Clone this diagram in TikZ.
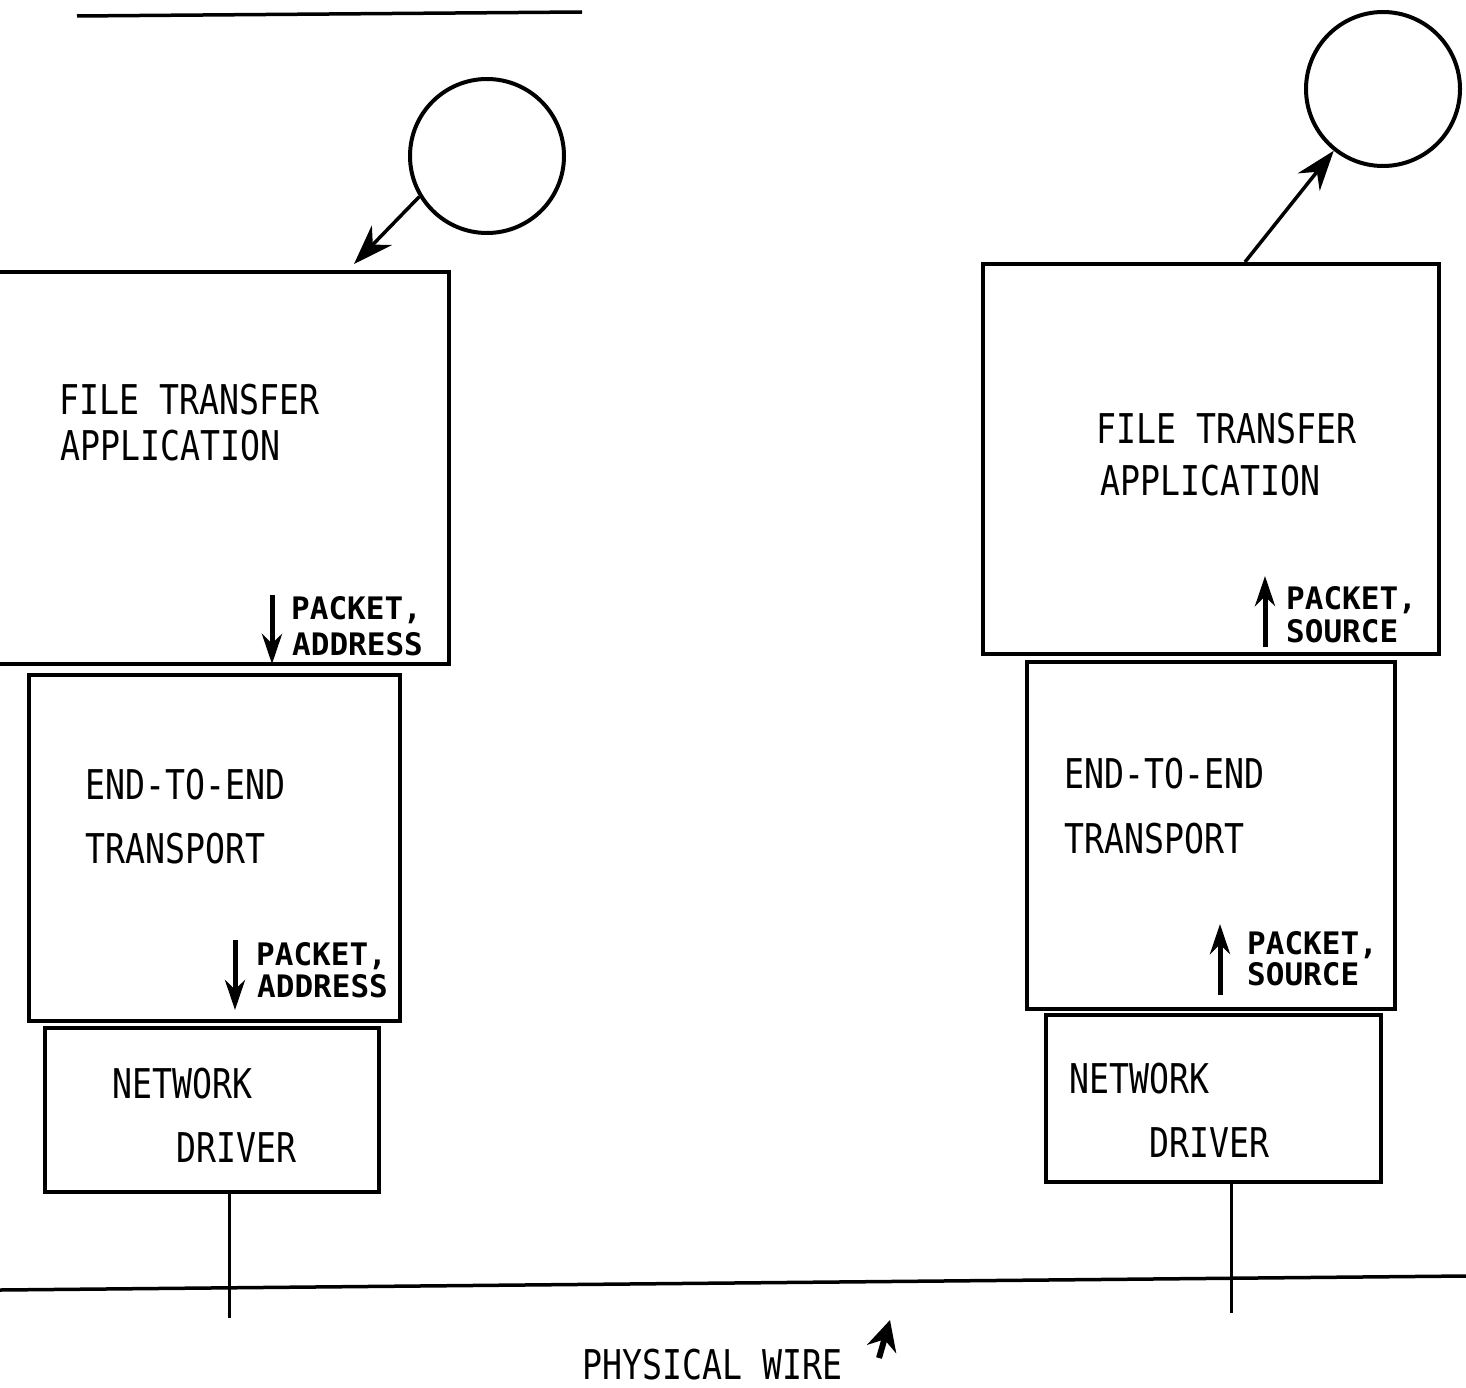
\documentclass[tikz,border=0pt]{standalone}
\usepackage{fontspec}
\setmainfont{DejaVu Sans Mono}
\newfontfamily\bigf[FakeStretch=0.81]{DejaVu Sans Mono}
\usetikzlibrary{arrows.meta}
\begin{document}
\begin{tikzpicture}[x=1pt,y=-1pt,
  box/.style={draw,line width=4pt,inner sep=0pt,anchor=north west},
  bubble/.style={draw,circle,line width=4pt,inner sep=0pt,minimum size=154pt},
  big/.style={anchor=base west,inner sep=0pt,font=\bigf\fontsize{41}{41}\selectfont},
  small/.style={anchor=base west,inner sep=0pt,font=\bfseries\fontsize{31}{31}\selectfont},
  flow/.style={line width=3.5pt,-{Stealth[length=40pt,width=28pt]}},
  updown/.style={line width=5pt,-{Stealth[length=30pt,width=20pt]}},
  wire/.style={line width=3pt}]
\useasboundingbox (0,0) rectangle (1466,1388);

% top line
\coordinate (t1) at (77,16);
\coordinate (t2) at (582,12);
\draw[wire,line width=3.5pt] (t1) -- (t2);

% ---------- left stack ----------
\node[bubble] (c1) at (487,156) {};
\node[box,minimum width=452pt,minimum height=392pt] (fta1) at (-5,270) {};
\node[box,minimum width=371pt,minimum height=346pt] (ete1) at (27,673) {};
\node[box,minimum width=334pt,minimum height=164pt] (nd1) at (43,1026) {};

\coordinate (a1) at (354,264);
\draw[flow] (c1.211) -- (a1);

\node[big] (fta1t1) at (59,414) {FILE TRANSFER};
\node[big] (fta1t2) at (60,460) {APPLICATION};
\coordinate (p1s) at (272,595);
\coordinate (p1e) at (272,664);
\draw[updown] (p1s) -- (p1e);
\node[small] (p1a) at (291,619) {PACKET,};
\node[small] (p1b) at (292,655) {ADDRESS};

\node[big] (ete1t1) at (85,799) {END-TO-END};
\node[big] (ete1t2) at (85,863) {TRANSPORT};
\coordinate (p2s) at (235,940);
\coordinate (p2e) at (235,1010);
\draw[updown] (p2s) -- (p2e);
\node[small] (p2a) at (256,965) {PACKET,};
\node[small] (p2b) at (257,997) {ADDRESS};

\node[big] (nd1t1) at (112,1098) {NETWORK};
\node[big] (nd1t2) at (176,1162) {DRIVER};

\coordinate (w1) at (229,1318);
\draw[wire] (nd1.south -| w1) -- (w1);

% ---------- right stack ----------
\node[bubble] (c2) at (1383,89) {};
\node[box,minimum width=456pt,minimum height=390pt] (fta2) at (981,262) {};
\node[box,minimum width=368pt,minimum height=347pt] (ete2) at (1025,660) {};
\node[box,minimum width=335pt,minimum height=167pt] (nd2) at (1044,1013) {};

\coordinate (a2) at (1245,262);
\draw[flow] (a2) -- (c2);

\node[big] (fta2t1) at (1096,443) {FILE TRANSFER};
\node[big] (fta2t2) at (1100,495) {APPLICATION};
\coordinate (p3s) at (1265,647);
\coordinate (p3e) at (1265,576);
\draw[updown] (p3s) -- (p3e);
\node[small] (p3a) at (1286,609) {PACKET,};
\node[small] (p3b) at (1286,642) {SOURCE};

\node[big] (ete2t1) at (1064,788) {END-TO-END};
\node[big] (ete2t2) at (1064,853) {TRANSPORT};
\coordinate (p4s) at (1220,995);
\coordinate (p4e) at (1220,924);
\draw[updown] (p4s) -- (p4e);
\node[small] (p4a) at (1247,954) {PACKET,};
\node[small] (p4b) at (1247,985) {SOURCE};

\node[big] (nd2t1) at (1069,1093) {NETWORK};
\node[big] (nd2t2) at (1149,1157) {DRIVER};

\coordinate (w2) at (1231,1313);
\draw[wire] (nd2.south -| w2) -- (w2);

% ---------- physical wire ----------
\coordinate (wl) at (0,1290);
\coordinate (wr) at (1466,1276);
\draw[wire,line width=3.5pt] (wl) -- (wr);
\node[big] (pw) at (582,1379) {PHYSICAL WIRE};
\coordinate (m1) at (879,1358);
\coordinate (m2) at (890,1320);
\draw[line width=6pt,-{Stealth[length=30pt,width=30pt]}] (m1) -- (m2);
\end{tikzpicture}
\end{document}
